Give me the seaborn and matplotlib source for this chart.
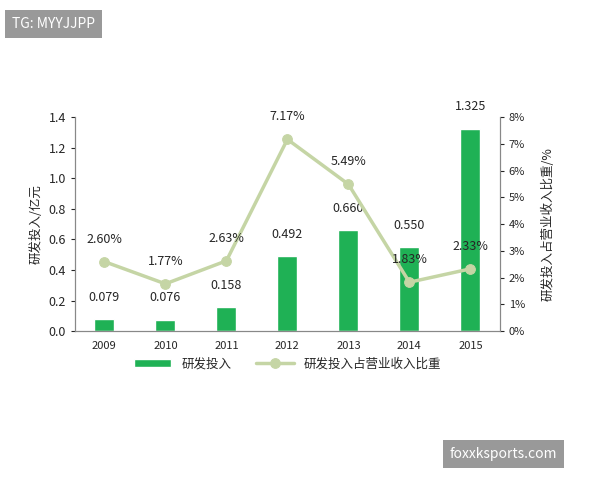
import matplotlib.pyplot as plt
import seaborn as sns
import pandas as pd

years = ["2009", "2010", "2011", "2012", "2013", "2014", "2015"]
invest = [0.079, 0.076, 0.158, 0.492, 0.660, 0.550, 1.325]
ratio = [2.60, 1.77, 2.63, 7.17, 5.49, 1.83, 2.33]

sns.set_style("white")
plt.rcParams['font.family'] = ['Noto Sans CJK SC', 'DejaVu Sans']

df = pd.DataFrame({"year": years, "invest": invest, "ratio": ratio})

fig = plt.figure(figsize=(6, 4.8), dpi=100)
ax = fig.add_axes([0.125, 0.31, 0.708, 0.446])
sns.barplot(data=df, x="year", y="invest", color="#1fb155", width=0.33, ax=ax,
            label="研发投入", saturation=1)
ax.set_ylim(0, 1.4)
ax.set_yticks([0, 0.2, 0.4, 0.6, 0.8, 1.0, 1.2, 1.4])
ax.set_yticklabels([f"{v:.1f}" for v in ax.get_yticks()], fontsize=9)
ax.set_xlabel("")
ax.set_ylabel("研发投入/亿元", fontsize=9)
ax.tick_params(axis="x", labelsize=8)
for i, v in enumerate(invest):
    ax.text(i, v + 0.1, f"{v:.3f}", ha="center", va="bottom", fontsize=9)

ax2 = ax.twinx()
sns.lineplot(x=list(range(len(years))), y=ratio, color="#c5d5a5", lw=2.5,
             marker="o", markersize=7, markeredgecolor="#c5d5a5", ax=ax2,
             label="研发投入占营业收入比重")
ax2.set_ylim(0, 8)
ax2.set_yticks(range(9))
ax2.set_yticklabels([f"{v}%" for v in range(9)], fontsize=8)
ax2.set_ylabel("研发投入占营业收入比重/%", fontsize=9, labelpad=12)
for i, v in enumerate(ratio):
    ax2.text(i, v + 0.6, f"{v:.2f}%", ha="center", va="bottom", fontsize=9)

for a in (ax, ax2):
    a.spines["top"].set_visible(False)
    for s in ("left", "right", "bottom"):
        a.spines[s].set_color("#888888")
ax.tick_params(axis="y", length=3, left=True)
ax2.tick_params(axis="y", length=3, right=True)

h1, l1 = ax.get_legend_handles_labels()
h2, l2 = ax2.get_legend_handles_labels()
ax2.get_legend().remove()
ax.legend(h1 + h2, l1 + l2, loc="upper center", bbox_to_anchor=(0.5, -0.07),
          ncol=2, frameon=False, fontsize=9, handlelength=3)

fig.text(0.02, 0.95, "TG: MYYJJPP", fontsize=10, color="white", va="center",
         bbox=dict(boxstyle="square,pad=0.5", fc="#999999", ec="none"))
fig.text(0.75, 0.055, "foxxksports.com", fontsize=10, color="white", va="center",
         bbox=dict(boxstyle="square,pad=0.5", fc="#999999", ec="none"))

fig.savefig("out.png")
